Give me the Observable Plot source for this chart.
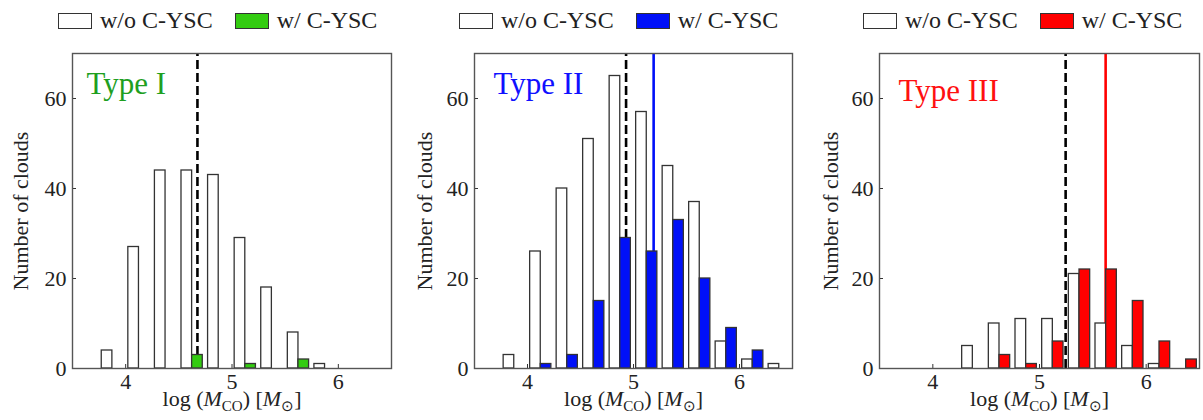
<!DOCTYPE html>
<html><head><meta charset="utf-8">
<script src="https://cdn.jsdelivr.net/npm/d3@7"></script>
<script src="https://cdn.jsdelivr.net/npm/@observablehq/plot@0.6"></script>
<style>
body{margin:0;background:#fff;}
#wrap{position:relative;width:1203px;height:420px;font-family:"Liberation Serif","Times New Roman",serif;color:#222;overflow:hidden;}
#wrap svg text{font-family:"Liberation Serif","Times New Roman",serif !important;}
.panel{position:absolute;top:0;width:400px;height:420px;}
.legend{position:absolute;top:11px;display:flex;align-items:center;font-size:24px;white-space:nowrap;line-height:19px;}
.sw{width:32px;height:14px;border:1.5px solid #333;display:inline-block;}
.lab{margin-left:8px;}
.gap{width:22px;}
.chart{position:absolute;top:40px;left:0;}
</style></head><body><div id="wrap"></div>
<script>
// ---- data ----
const binStarts = [3.75, 4.0, 4.25, 4.5, 4.75, 5.0, 5.25, 5.5, 5.75, 6.0, 6.25];
const binWidth = 0.25;
const typeI_without   = [4, 27, 44, 44, 43, 29, 18, 8, 1, 0, 0];
const typeI_with      = [0, 0, 0, 3, 0, 1, 0, 2, 0, 0, 0];
const typeII_without  = [3, 26, 40, 51, 65, 57, 45, 37, 6, 2, 1];
const typeII_with     = [0, 1, 3, 15, 29, 26, 33, 20, 9, 4, 0];
const typeIII_without = [0, 0, 5, 10, 11, 11, 21, 10, 5, 1, 0];
const typeIII_with    = [0, 0, 0, 3, 1, 6, 22, 22, 15, 6, 2];
const panelNames = ["Type I", "Type II", "Type III"];
const medianWithout = [4.675, 4.93, 5.245];
const medianWith = [null, 5.19, 5.62];
const xTicks = [4, 5, 6];
const yTicks = [0, 20, 40, 60];
const xDomain = [3.5, 6.5];
const yDomain = [0, 70];
const legendLabels = ["w/o C-YSC", "w/ C-YSC"];
const yLabel = "Number of clouds";
const xLabelKey = "log (MCO) [M⊙]";

// ---- styling ----
const panels = [
  {without: typeI_without, with: typeI_with, bar: "#33cc11", text: "#1f9f1f", left: 0, ml: 72, mr: 9, legLeft: 58, nameDx: 14, nameDy: 18, yDx: -52},
  {without: typeII_without, with: typeII_with, bar: "#0010f8", text: "#1010ff", left: 400, ml: 74, mr: 8, legLeft: 59, nameDx: 19, nameDy: 18, yDx: -50},
  {without: typeIII_without, with: typeIII_with, bar: "#ff0000", text: "#ff1010", left: 803, ml: 76, mr: 4, legLeft: 60, nameDx: 19, nameDy: 25, yDx: -49}
];
const W = 400, H = 380, MT = 13, MB = 52;
const wrap = document.getElementById("wrap");
const SVGNS = "http://www.w3.org/2000/svg";
const tickStrings = new Set([...xTicks, ...yTicks].map(String));

panels.forEach((p, i) => {
  const div = document.createElement("div");
  div.className = "panel";
  div.style.left = p.left + "px";
  wrap.appendChild(div);

  // legend
  const leg = document.createElement("div");
  leg.className = "legend";
  leg.style.left = p.legLeft + "px";
  leg.innerHTML = `<span class="sw" style="background:#fff"></span><span class="lab">${legendLabels[0]}</span><span class="gap"></span><span class="sw" style="background:${p.bar}"></span><span class="lab">${legendLabels[1]}</span>`;
  div.appendChild(leg);

  const rows = binStarts.map((b, j) => ({x1: b, x2: b + binWidth, n0: p.without[j], n1: p.with[j]}));
  const k = (W - p.ml - p.mr) / (xDomain[1] - xDomain[0]);
  const fw = W - p.ml - p.mr, fh = H - MT - MB;

  const marks = [
    Plot.ruleX([medianWithout[i]], {x: d => d, y1: () => yDomain[0], y2: () => yDomain[1], stroke: "#000", strokeWidth: 2.6, strokeDasharray: "9,4"})
  ];
  if (medianWith[i] != null) {
    marks.push(Plot.ruleX([medianWith[i]], {x: d => d, y1: () => yDomain[0], y2: () => yDomain[1], stroke: p.bar, strokeWidth: 2.6}));
  }
  marks.push(
    Plot.rect(rows.filter(d => d.n0 > 0), {x1: "x1", x2: "x2", y1: () => 0, y2: "n0", fill: "#fff", stroke: "#333", strokeWidth: 1.3, insetLeft: 0.025 * k, insetRight: 0.125 * k}),
    Plot.rect(rows.filter(d => d.n1 > 0), {x1: "x1", x2: "x2", y1: () => 0, y2: "n1", fill: p.bar, stroke: "#333", strokeWidth: 1.3, insetLeft: 0.125 * k, insetRight: 0.025 * k}),
    Plot.tickX(xTicks, {x: d => d, insetTop: fh - 4, stroke: "#333", strokeWidth: 1}),
    Plot.tickY(yTicks, {y: d => d, insetRight: fw - 4, stroke: "#333", strokeWidth: 1}),
    Plot.frame({stroke: "#555", strokeWidth: 1.4}),
    Plot.text([panelNames[i]], {text: d => d, frameAnchor: "top-left", dx: p.nameDx, dy: p.nameDy, lineAnchor: "top", textAnchor: "start", fill: p.text, fontSize: 31}),
    Plot.text([yLabel], {text: d => d, frameAnchor: "left", rotate: -90, dx: p.yDx, textAnchor: "middle", fontSize: 22, fill: "#222"}),
    Plot.text([xLabelKey], {text: d => d, frameAnchor: "bottom", dy: 37, textAnchor: "middle", fontSize: 22, fill: "#222"})
  );

  const chart = Plot.plot({
    width: W, height: H,
    marginLeft: p.ml, marginRight: p.mr, marginTop: MT, marginBottom: MB,
    x: {domain: xDomain, ticks: xTicks, tickFormat: d => String(d), tickSize: 0, tickPadding: 5, label: null},
    y: {domain: yDomain, ticks: yTicks, tickFormat: d => String(d), tickSize: 0, tickPadding: 6, label: null},
    style: {fontFamily: "'Liberation Serif', 'Times New Roman', serif", fontSize: "22px", color: "#222", background: "transparent", overflow: "visible"},
    marks
  });
  chart.classList.add("chart");
  chart.style.position = "absolute";
  chart.style.top = "40px";
  chart.style.left = "0px";
  div.appendChild(chart);

  chart.querySelectorAll("text").forEach(t => {
    // tick labels: enforce size
    if (tickStrings.has(t.textContent)) {
      t.setAttribute("font-size", "22");
      t.style.fontSize = "22px";
      t.setAttribute("fill", "#222");
    }
    // rich x label: italic M with subscripts
    if (t.textContent === xLabelKey) {
      while (t.firstChild) t.removeChild(t.firstChild);
      const parts = [
        ["log (", {}], ["M", {"font-style": "italic"}], ["CO", {"font-size": "15", dy: "5"}],
        [") [", {dy: "-5"}], ["M", {"font-style": "italic"}], ["⊙", {"font-size": "15", dy: "5"}], ["]", {dy: "-5"}]
      ];
      parts.forEach(([s, attrs]) => {
        const ts = document.createElementNS(SVGNS, "tspan");
        for (const a in attrs) ts.setAttribute(a, attrs[a]);
        ts.textContent = s;
        t.appendChild(ts);
      });
    }
  });
});
</script></body></html>
